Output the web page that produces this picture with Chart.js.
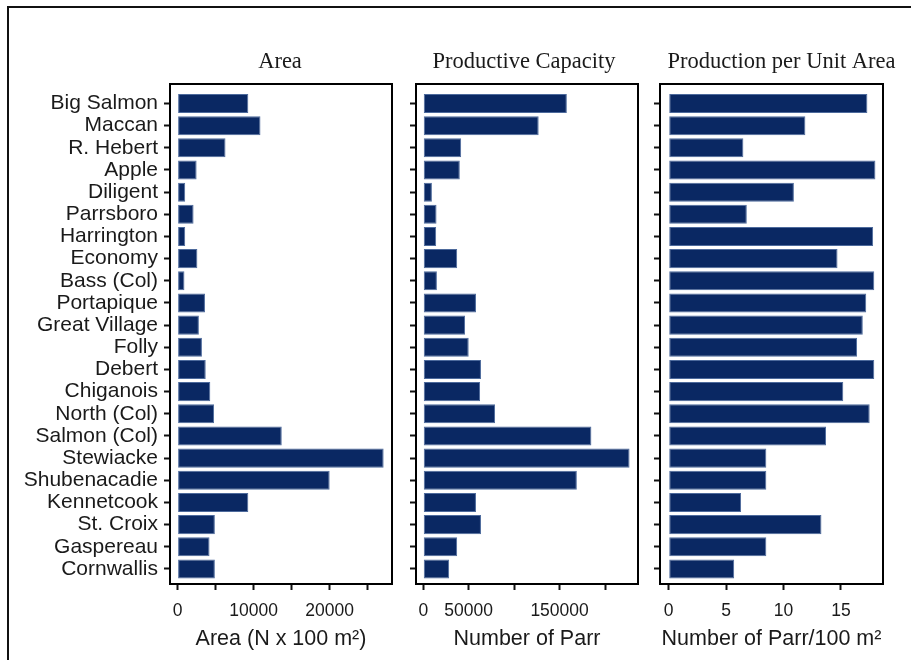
<!DOCTYPE html>
<html>
<head>
<meta charset="utf-8">
<title>Atlantic salmon rivers: area, parr production and density</title>
<script src="https://cdn.jsdelivr.net/npm/chart.js@4.4.1/dist/chart.umd.min.js"></script>
<style>
  html, body { margin: 0; padding: 0; background: #fff; }
  #page { position: relative; width: 911px; height: 660px; overflow: hidden; background: #fff; }
  #edge { position: absolute; left: 7px; top: 6px; right: -10px; bottom: -10px;
          border-left: 2px solid #111; border-top: 2px solid #111; }
  .panel { position: absolute; top: 0; height: 660px; }
  canvas { display: block; }
</style>
</head>
<body>
<div id="page">
  <div id="edge"></div>
  <div class="panel" style="left:0;width:400px"><canvas id="areaChart" width="400" height="660"></canvas></div>
  <div class="panel" style="left:400px;width:250px"><canvas id="parrChart" width="250" height="660"></canvas></div>
  <div class="panel" style="left:644px;width:267px"><canvas id="densityChart" width="267" height="660"></canvas></div>
</div>
<script>
// Rivers, top to bottom
const rivers = ['Big Salmon', 'Maccan', 'R. Hebert', 'Apple', 'Diligent', 'Parrsboro',
  'Harrington', 'Economy', 'Bass (Col)', 'Portapique', 'Great Village', 'Folly', 'Debert',
  'Chiganois', 'North (Col)', 'Salmon (Col)', 'Stewiacke', 'Shubenacadie', 'Kennetcook',
  'St. Croix', 'Gaspereau', 'Cornwallis'];

// Rearing area (units of 100 m²)
const areaValues = [9300, 10900, 6300, 2500, 1000, 2100, 1000, 2600, 900, 3600, 2800, 3200,
  3700, 4300, 4800, 13700, 27100, 20000, 9300, 4900, 4200, 4900];

// Productive capacity (number of parr)
const parrValues = [158000, 127000, 41700, 40200, 9500, 14600, 14200, 37300, 15000, 58000,
  46000, 50000, 63500, 62500, 79000, 185000, 227000, 169000, 58000, 63500, 37300, 28500];

// Production per unit area (parr per 100 m²)
const densityValues = [17.3, 11.9, 6.5, 18.0, 10.9, 6.8, 17.8, 14.7, 17.9, 17.2, 16.9, 16.4,
  17.9, 15.2, 17.5, 13.7, 8.5, 8.5, 6.3, 13.3, 8.5, 5.7];

// Tick marks and the subset of them that carry a label
const areaTicks = [0, 5000, 10000, 15000, 20000, 25000];
const areaTickLabels = [0, 10000, 20000];
const parrTicks = [0, 50000, 100000, 150000, 200000];
const parrTickLabels = [0, 50000, 150000];
const densityTicks = [0, 5, 10, 15];
const densityTickLabels = [0, 5, 10, 15];

const BAR = '#0a2863';
const INK = '#1a1a1a';
const SANS = '"Liberation Sans", Arial, sans-serif';
const SERIF = '"Liberation Serif", "Times New Roman", serif';

// Box around the plotting area plus the panel heading
const panelFrame = {
  id: 'panelFrame',
  afterDraw(chart, args, opts) {
    const { ctx, chartArea: a } = chart;
    ctx.save();
    ctx.strokeStyle = '#000';
    ctx.lineWidth = 2;
    ctx.strokeRect(a.left, a.top, a.right - a.left, a.bottom - a.top);
    ctx.font = '22.5px ' + SERIF;
    ctx.fillStyle = INK;
    ctx.textAlign = 'center';
    ctx.textBaseline = 'middle';
    ctx.fillText(opts.text, (a.left + a.right) / 2 + (opts.dx || 0), 62);
    ctx.restore();
  }
};

function makePanel(canvasId, values, cfg) {
  return new Chart(document.getElementById(canvasId), {
    type: 'bar',
    data: {
      datasets: [{
        data: values.map((v, i) => ({ x: v, y: i })),
        backgroundColor: BAR,
        borderColor: '#4d6a9c',
        borderWidth: 1,
        borderSkipped: false,
        categoryPercentage: 1,
        barPercentage: 0.86
      }]
    },
    options: {
      indexAxis: 'y',
      responsive: false,
      animation: false,
      layout: { padding: { left: 0, right: cfg.padRight, top: 84, bottom: 0 } },
      plugins: {
        legend: { display: false },
        tooltip: { enabled: false },
        panelFrame: { text: cfg.title, dx: cfg.titleDx || 0 }
      },
      scales: {
        x: {
          type: 'linear',
          min: cfg.xMin,
          max: cfg.xMax,
          afterBuildTicks: s => { s.ticks = cfg.ticks.map(v => ({ value: v })); },
          afterFit: s => { s.height = 76; },
          grid: { drawOnChartArea: false, drawTicks: true, tickLength: 6, tickWidth: 2, tickColor: '#111' },
          border: { display: false },
          ticks: {
            autoSkip: false, maxRotation: 0, padding: 11,
            color: INK, font: { family: SANS, size: 17.5 },
            callback: v => cfg.labels.includes(v) ? String(v) : ''
          },
          title: {
            display: true, text: cfg.axisTitle, color: INK,
            font: { family: SANS, size: 21.5 }, padding: { top: 0, bottom: 8 }
          }
        },
        y: {
          type: 'linear',
          reverse: true,
          offset: false,
          min: -0.88,
          max: 21.68,
          afterBuildTicks: s => { s.ticks = rivers.map((r, i) => ({ value: i })); },
          afterFit: s => { s.width = cfg.yWidth; },
          grid: { offset: false, drawOnChartArea: false, drawTicks: true, tickLength: 6, tickWidth: 2, tickColor: '#111' },
          border: { display: false },
          ticks: {
            autoSkip: false, padding: 6,
            color: INK, font: { family: SANS, size: 21 },
            callback: v => cfg.showNames ? rivers[v] : ''
          }
        }
      }
    },
    plugins: [panelFrame]
  });
}

makePanel('areaChart', areaValues, {
  title: 'Area', titleDx: -1, axisTitle: 'Area (N x 100 m²)',
  xMin: -1000, xMax: 28200, ticks: areaTicks, labels: areaTickLabels,
  showNames: true, yWidth: 170, padRight: 8
});

makePanel('parrChart', parrValues, {
  title: 'Productive Capacity', titleDx: -3, axisTitle: 'Number of Parr',
  xMin: -8000, xMax: 236300, ticks: parrTicks, labels: parrTickLabels,
  showNames: false, yWidth: 16, padRight: 12
});

makePanel('densityChart', densityValues, {
  title: 'Production per Unit Area', titleDx: 10, axisTitle: 'Number of Parr/100 m²',
  xMin: -0.76, xMax: 18.66, ticks: densityTicks, labels: densityTickLabels,
  showNames: false, yWidth: 16, padRight: 28
});
</script>
</body>
</html>
